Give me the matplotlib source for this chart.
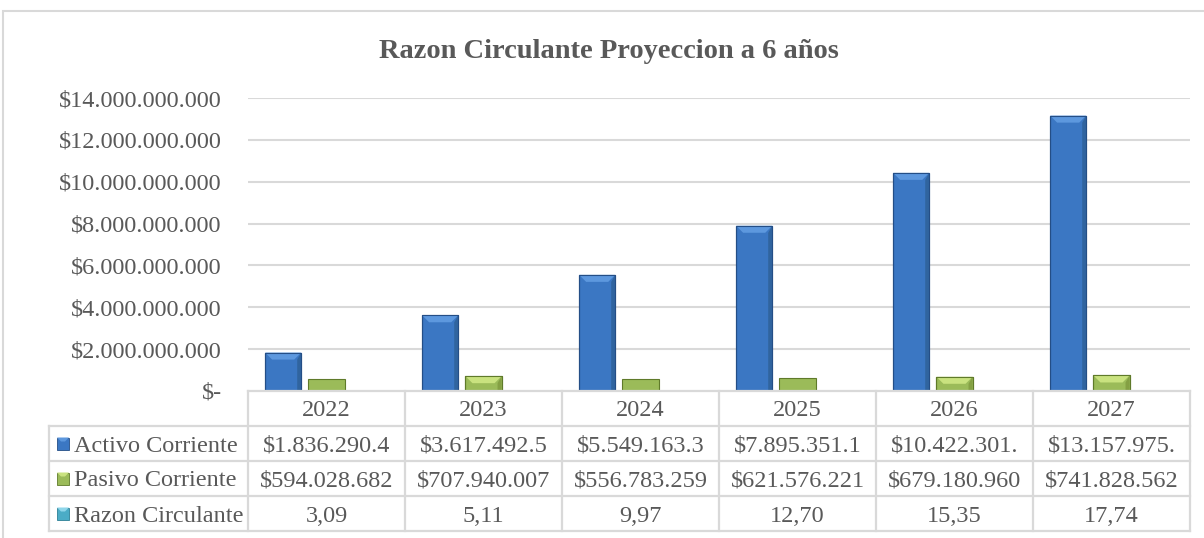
import matplotlib
matplotlib.use("Agg")
import matplotlib.pyplot as plt
from matplotlib.patches import Rectangle, Polygon
import numpy as np

# ---------------- data ----------------
years = ["2022", "2023", "2024", "2025", "2026", "2027"]
series_names = ["Activo Corriente", "Pasivo Corriente", "Razon Circulante"]
activo = [1836290400, 3617492500, 5549163300, 7895351100, 10422301000, 13157975000]
pasivo = [594028682, 707940007, 556783259, 621576221, 679180960, 741828562]
razon = [3.09, 5.11, 9.97, 12.70, 15.35, 17.74]
yticks = [0, 2e9, 4e9, 6e9, 8e9, 10e9, 12e9, 14e9]
title = "Razon Circulante Proyeccion a 6 años"

# ---------------- style ----------------
W, H, DPI = 1204, 538, 100
TXT = "#595959"
GRID = "#d9d9d9"
FONT = "Liberation Serif"
FS = 17.5
plt.rcParams["font.family"] = [FONT, "DejaVu Serif"]

face = ["#3b77c3", "#9bbb59", "#4bacc6"]
edge = ["#244e86", "#5f7a2a", "#2c7f95"]
light = ["#5d98de", "#c9e27f", "#8fd6ea"]
dark = ["#30649f", "#84a043", "#3590a8"]

fig = plt.figure(figsize=(W / DPI, H / DPI), dpi=DPI)
fig.patch.set_facecolor("white")

# pixel geometry
ax_l, ax_r, ax_t, ax_b = 248, 1190, 98, 391
ax = fig.add_axes([ax_l / W, 1 - ax_b / H, (ax_r - ax_l) / W, (ax_b - ax_t) / H])
ax.set_xlim(-0.5, len(years) - 0.5)
ax.set_ylim(0, 14e9)
for s in ax.spines.values():
    s.set_visible(False)
ax.set_yticks(yticks)
ax.set_yticklabels(["$-" if v == 0 else "$" + f"{int(v):,}".replace(",", ".") for v in yticks],
                   fontsize=FS, color=TXT)
ax.tick_params(axis="y", length=0, pad=19)
ax.set_xticks([])
for v in yticks[1:]:
    ax.axhline(v, color=GRID, lw=1.5, zorder=0)

# bars
x = np.arange(len(years))
width = 0.23
offs = [-0.276, 0.0, 0.276]
data = [activo, pasivo, razon]
px_per_x = (ax_r - ax_l) / len(years)
px_per_y = (ax_b - ax_t) / 14e9
bev_px = 7
dx = bev_px / px_per_x
dy = bev_px / px_per_y
sx = 4 / px_per_x
for k, vals in enumerate(data):
    bars = ax.bar(x + offs[k], vals, width, color=face[k], edgecolor=edge[k], lw=0.8, zorder=2)
    for b in bars:
        x0, x1, h = b.get_x(), b.get_x() + b.get_width(), b.get_height()
        if h < 2 * dy:
            continue
        # side shading
        ax.add_patch(Polygon([(x1, 0), (x1, h), (x1 - sx, h - dy), (x1 - sx, 0)],
                             closed=True, fc=dark[k], ec="none", zorder=3))
        # top bevel
        ax.add_patch(Polygon([(x0, h), (x1, h), (x1 - dx, h - dy), (x0 + dx, h - dy)],
                             closed=True, fc=light[k], ec="none", zorder=3))
        ax.add_patch(Rectangle((x0, 0), x1 - x0, h, fc="none", ec=edge[k], lw=0.8, zorder=4))

# ---------------- data table ----------------
def fx(px):
    return px / W

def fy(py):
    return 1 - py / H

lab_l = 49
row_h = 35
rows_top = ax_b
n_rows = 4
col_edges = [ax_l + i * px_per_x for i in range(len(years) + 1)]
LW = 1.6

def hline(y, xa, xb):
    fig.add_artist(plt.Line2D([fx(xa), fx(xb)], [fy(y), fy(y)], color=GRID, lw=LW))

def vline(xv, ya, yb):
    fig.add_artist(plt.Line2D([fx(xv), fx(xv)], [fy(ya), fy(yb)], color=GRID, lw=LW))

bottom = rows_top + n_rows * row_h
hline(rows_top, ax_l, ax_r)
for r in range(1, n_rows + 1):
    hline(rows_top + r * row_h, lab_l, ax_r)
for xe in col_edges:
    vline(xe, rows_top, bottom)
vline(lab_l, rows_top + row_h, bottom)

# header years
for i, yr in enumerate(years):
    cx = (col_edges[i] + col_edges[i + 1]) / 2
    fig.text(fx(cx), fy(rows_top + row_h / 2), yr, ha="center", va="center_baseline",
             fontsize=FS, color=TXT)

def fmt_money(v):
    return ("$" + f"{int(round(v)):,}".replace(",", "."))[:12]

def fmt_ratio(v):
    return f"{v:.2f}".replace(".", ",")

cells = [[fmt_money(v) for v in activo],
         [fmt_money(v) for v in pasivo],
         [fmt_ratio(v) for v in razon]]

for r in range(3):
    cy = rows_top + (r + 1.5) * row_h
    # legend key
    ks = 12
    kx = 57
    fig.add_artist(Rectangle((fx(kx), fy(cy + ks / 2)), ks / W, ks / H,
                             fc=face[r], ec=edge[r], lw=0.6))
    fig.add_artist(Polygon([(fx(kx), fy(cy - ks / 2)), (fx(kx + ks), fy(cy - ks / 2)),
                            (fx(kx + ks - 4), fy(cy - ks / 2 + 4)), (fx(kx + 4), fy(cy - ks / 2 + 4))],
                           closed=True, fc=light[r], ec="none"))
    fig.text(fx(74), fy(cy), series_names[r], ha="left", va="center_baseline",
             fontsize=FS, color=TXT)
    for i in range(len(years)):
        cx = (col_edges[i] + col_edges[i + 1]) / 2
        fig.text(fx(cx), fy(cy), cells[r][i], ha="center", va="center_baseline",
                 fontsize=FS, color=TXT)

# title
fig.text(fx(609), fy(58), title, ha="center", va="baseline", fontsize=20.5,
         fontweight="bold", color=TXT)

# outer chart border
fig.add_artist(Rectangle((fx(3), fy(H + 5)), fx(W + 10), (H - 11 + 5) / H,
                         fc="none", ec=GRID, lw=1.5))

fig.savefig("out.png", dpi=DPI)
